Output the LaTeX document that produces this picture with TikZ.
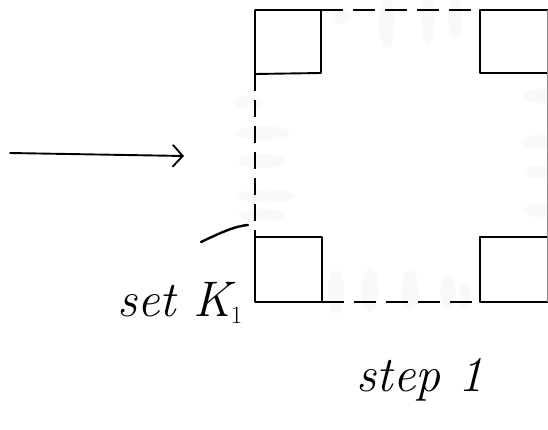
\documentclass[tikz,border=0pt]{standalone}
\usetikzlibrary{arrows.meta}
\begin{document}
\begin{tikzpicture}[x=1pt,y=-1pt,
  ink/.style={line width=1.9pt,line cap=round,line join=round},
  cornerbox/.style={ink},
  edgedash/.style={line width=1.9pt,dash pattern=on 22pt off 10pt},
  smudge/.style={fill=black!2.5,draw=none},
  hand/.style={font=\fontsize{50}{50}\selectfont\itshape,inner sep=0pt}]
\useasboundingbox (0,0) rectangle (548,430);

% faint erased strokes
\foreach \x/\y/\a/\b in {342/16/8/8, 387/22/8/26, 428/20/7/24, 455/18/7/22}
  \fill[smudge] (\x,\y) ellipse ({\a} and {\b});
\foreach \x/\y/\a/\b in {336/292/8/22, 370/290/9/22, 410/290/9/20, 448/292/8/18, 465/296/6/14}
  \fill[smudge] (\x,\y) ellipse ({\a} and {\b});
\foreach \x/\y/\a/\b in {249/102/15/7, 262/133/27/7, 262/161/24/7, 266/196/28/7, 262/215/24/6}
  \fill[smudge] (\x,\y) ellipse ({\a} and {\b});
\foreach \x/\y/\a/\b in {540/96/16/7, 538/142/16/7, 538/172/14/7, 538/210/14/7}
  \fill[smudge] (\x,\y) ellipse ({\a} and {\b});

% four corner squares
\draw[cornerbox] (255,74) -- (255,10) -- (321,10) -- (321,73) -- cycle;
\draw[cornerbox] (548,10) -- (480,10) -- (480,73) -- (548,73);
\draw[cornerbox] (255,237) -- (322,237) -- (322,302) -- (255,302) -- cycle;
\draw[cornerbox] (548,237) -- (480,237) -- (480,302) -- (548,302);

% dashed sides between the squares
\draw[edgedash] (321,10) -- (480,10);
\draw[edgedash] (322,302) -- (480,302);
\draw[line width=1.9pt,dash pattern=on 17pt off 9pt] (255,74) -- (255,237);
\draw[black!45,line width=0.6pt] (547.5,10) -- (547.5,302);

% incoming arrow
\coordinate (arrowtail) at (10,153);
\coordinate (arrowhead) at (184,156);
\draw[ink,-{Straight Barb[length=10pt,width=22pt,line width=1.9pt]}] (arrowtail) -- (arrowhead);

% label pointer to the lower-left square
\coordinate (ptrA) at (201,242);
\coordinate (ptrB) at (248,225);
\draw[line width=2.4pt,line cap=round] (ptrA) .. controls (220,233) and (235,226) .. (ptrB);

% labels
\node[hand] (setk) at (180,303) {set K$_1$};
\node[hand] (stepone) at (420,380) {step 1};
\end{tikzpicture}
\end{document}
